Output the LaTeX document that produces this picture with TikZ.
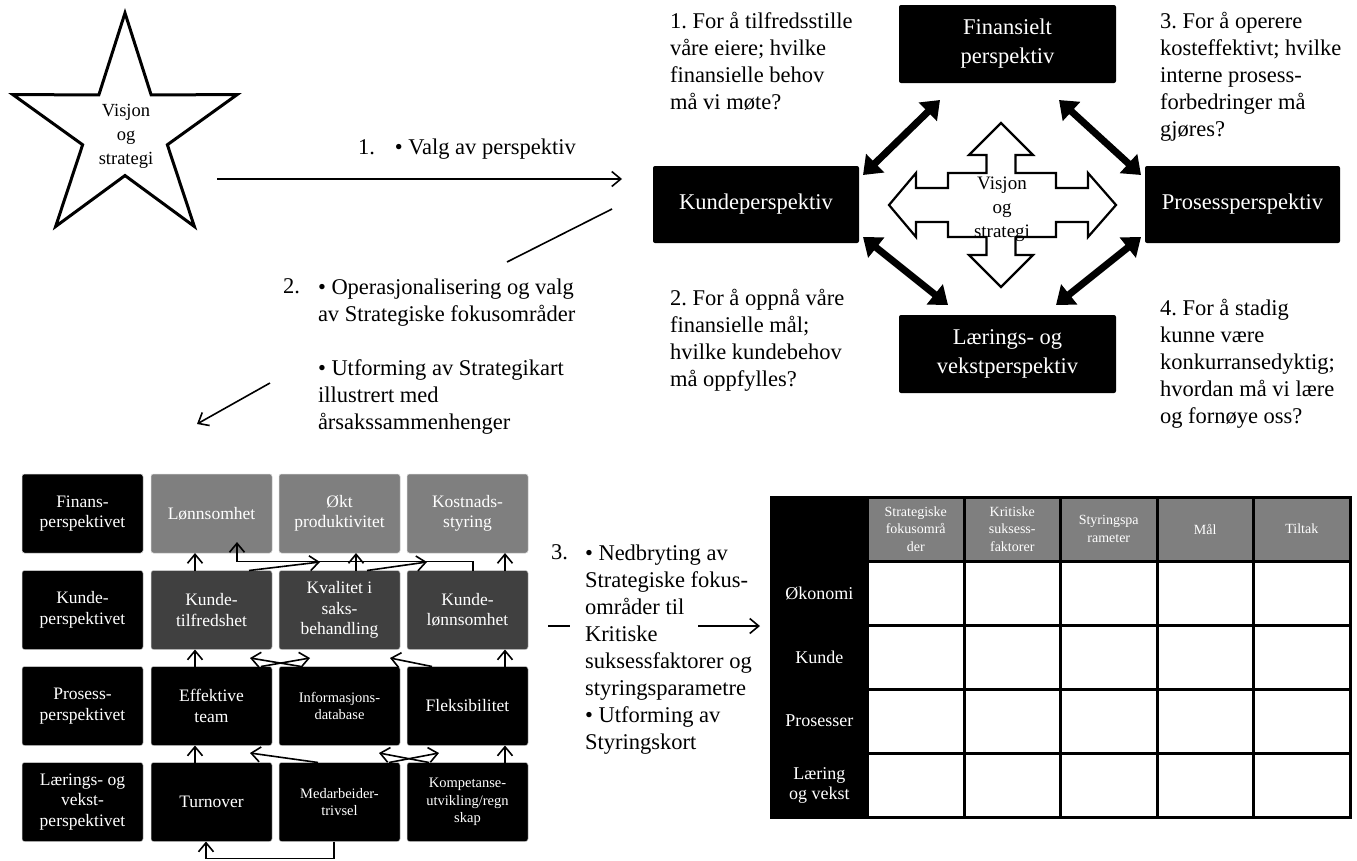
\documentclass[tikz,border=0pt]{standalone}
\usepackage{fontspec}
\setmainfont{Liberation Serif}
\usetikzlibrary{arrows.meta,shapes.geometric}
\frenchspacing

\definecolor{mapgray}{RGB}{127,127,127}
\definecolor{mapdark}{RGB}{64,64,64}

\tikzset{
  flow/.style={line width=1.6pt, -{Straight Barb[length=9pt,width=15pt]}},
  dbl/.style={line width=7pt, {Triangle[length=17pt,width=25pt]}-{Triangle[length=17pt,width=25pt]}},
  bigbox/.style={fill=black, text=white, rounded corners=2pt, align=center, font=\fontsize{22.5}{29}\selectfont},
  note/.style={anchor=north west, align=left, font=\fontsize{22.5}{27}\selectfont},
  steptxt/.style={anchor=north west, align=left, font=\fontsize{22.5}{27}\selectfont},
  mapbox/.style={fill=black, draw=gray!40, line width=0.5pt, rounded corners=2.5pt, minimum width=121pt, minimum height=79pt, text=white, align=center, font=\fontsize{17.5}{20.5}\selectfont},
  smalltxt/.style={font=\fontsize{14.5}{17.5}\selectfont},
  cell/.style={draw=black, fill=white, line width=3pt, minimum width=96.5pt, minimum height=64pt},
  headcell/.style={cell, fill=mapgray, text=white, align=center, font=\fontsize{14}{17.5}\selectfont},
  rowcell/.style={cell, fill=black, text=white, align=center, font=\fontsize{18}{20}\selectfont}
}

\begin{document}
\begin{tikzpicture}[x=1pt, y=-1pt, every node/.style={inner sep=0pt, outer sep=0pt}]
    \useasboundingbox (0,0) rectangle (1357,860);

    % star and the first steps
    \node[star, star points=5, star point ratio=2.65, draw, line width=3pt, minimum size=236pt] (star) at (125,131) {};
    \node[align=center, font=\fontsize{18.5}{24}\selectfont] (startxt) at (126,136) {Visjon\\og\\strategi};

    \node[anchor=west, font=\fontsize{22.5}{27}\selectfont] (step1) at (358,149) {1.\hspace{20pt}\textbullet\ Valg av perspektiv};
    \coordinate (a1s) at (217,179);
    \coordinate (a1e) at (622,179);
    \draw[flow] (a1s) -- (a1e);

    \coordinate (l2s) at (612,209);
    \coordinate (l2e) at (507,262);
    \draw[line width=1.6pt] (l2s) -- (l2e);

    \node[steptxt] (n2) at (283,279) {2.};
    \node[steptxt] (step2) at (318,279) {\textbullet\ Operasjonalisering og valg\\av Strategiske fokusområder\\[27pt]\textbullet\ Utforming av Strategikart\\illustrert med\\årsakssammenhenger};
    \coordinate (a2s) at (270,383);
    \coordinate (a2e) at (197,424);
    \draw[flow] (a2s) -- (a2e);

    % perspectives
    \node[bigbox, minimum width=217pt, minimum height=78pt] (fin) at (1007.5,44) {Finansielt\\perspektiv};
    \node[bigbox, minimum width=206pt, minimum height=77pt] (kunde) at (756,204.5) {Kundeperspektiv};
    \node[bigbox, minimum width=195pt, minimum height=77pt] (pros) at (1242.5,204.5) {Prosessperspektiv};
    \node[bigbox, minimum width=217pt, minimum height=78pt] (laer) at (1007.5,354) {Lærings- og\\vekstperspektiv};

    \node[note] (q1) at (670,12.5) {1. For å tilfredsstille\\våre eiere; hvilke\\finansielle behov\\må vi møte?};
    \node[note] (q3) at (1160,12.5) {3. For å operere\\kosteffektivt; hvilke\\interne prosess-\\forbedringer må\\gjøres?};
    \node[note] (q2) at (670,289.5) {2. For å oppnå våre\\finansielle mål;\\hvilke kundebehov\\må oppfylles?};
    \node[note] (q4) at (1160,299.5) {4. For å stadig\\kunne være\\konkurransedyktig;\\hvordan må vi lære\\og fornøye oss?};

    \draw[line width=2.2pt, fill=white, line join=miter] (1001,123) -- (1033,155) -- (1015.5,155) -- (1015.5,173) -- (1056,173) -- (1056,188) -- (1088,188) -- (1088,173) -- (1116,205) -- (1088,237) -- (1088,222) -- (1056,222) -- (1056,237) -- (1015.5,237) -- (1015.5,255) -- (1033,255) -- (1001,287) -- (969,255) -- (986.5,255) -- (986.5,237) -- (948,237) -- (948,222) -- (916,222) -- (916,237) -- (889,205) -- (916,173) -- (916,188) -- (948,188) -- (948,173) -- (986.5,173) -- (986.5,155) -- (969,155) -- cycle;
    \node[align=center, font=\fontsize{19}{24}\selectfont] (vis) at (1002,209) {Visjon\\og\\strategi};

    \draw[dbl] ([xshift=41pt,yshift=-17pt]fin.south west) -- ([xshift=4pt,yshift=-9pt]kunde.north east);
    \draw[dbl] ([xshift=-57pt,yshift=-17pt]fin.south east) -- ([xshift=-4pt,yshift=-9pt]pros.north west);
    \draw[dbl] ([xshift=4pt,yshift=6pt]kunde.south east) -- ([xshift=49pt,yshift=10pt]laer.north west);
    \draw[dbl] ([xshift=-4pt,yshift=6pt]pros.south west) -- ([xshift=-60pt,yshift=10pt]laer.north east);

    % strategy map
    \node[mapbox] (fp) at (82.5,513.5) {Finans-\\perspektivet};
    \node[mapbox, fill=mapgray] (lon) at (211.5,513.5) {Lønnsomhet};
    \node[mapbox, fill=mapgray] (okt) at (339.5,513.5) {Økt\\produktivitet};
    \node[mapbox, fill=mapgray] (kost) at (467.5,513.5) {Kostnads-\\styring};
    \node[mapbox] (kp) at (82.5,610) {Kunde-\\perspektivet};
    \node[mapbox, fill=mapdark] (ktf) at (211.5,610) {Kunde-\\tilfredshet};
    \node[mapbox, fill=mapdark] (kval) at (339.5,610) {Kvalitet i\\saks-\\behandling};
    \node[mapbox, fill=mapdark] (klon) at (467.5,610) {Kunde-\\lønnsomhet};
    \node[mapbox] (pp) at (82.5,706) {Prosess-\\perspektivet};
    \node[mapbox] (eff) at (211.5,706) {Effektive\\team};
    \node[mapbox, smalltxt] (info) at (339.5,706) {Informasjons-\\database};
    \node[mapbox] (flex) at (467.5,706) {Fleksibilitet};
    \node[mapbox] (lvp) at (82.5,802) {Lærings- og\\vekst-\\perspektivet};
    \node[mapbox] (turn) at (211.5,802) {Turnover};
    \node[mapbox, smalltxt] (medarb) at (339.5,802) {Medarbeider-\\trivsel};
    \node[mapbox, smalltxt] (komp) at (467.5,802) {Kompetanse-\\utvikling/regn\\skap};

    \draw[flow] ([xshift=-16.5pt]ktf.north) -- ([xshift=-16.5pt]lon.south);
    \draw[flow] ([xshift=-16.5pt]eff.north) -- ([xshift=-16.5pt]ktf.south);
    \draw[flow] ([xshift=-16.5pt]turn.north) -- ([xshift=-16.5pt]eff.south);
    \draw[flow] ([xshift=16.5pt]kval.north) -- ([xshift=16.5pt]okt.south);
    \draw[flow] ([xshift=37.5pt]klon.north) -- ([xshift=37.5pt]kost.south);
    \draw[flow] ([xshift=37.5pt]flex.north) -- ([xshift=37.5pt]klon.south);
    \draw[flow] ([xshift=37.5pt]komp.north) -- ([xshift=37.5pt]flex.south);
    \draw[flow] ([xshift=5.5pt]klon.north) -- ++(0,-9) -| ([xshift=25.5pt,yshift=11pt]lon.south);

    \coordinate (t1) at (320,562);
    \coordinate (t2) at (427,562);
    \coordinate (t3) at (310,658);
    \coordinate (t4) at (250,658);
    \coordinate (t5) at (390,658);
    \coordinate (t6) at (250,753);
    \coordinate (t7) at (379,753);
    \coordinate (t8) at (439,753);
    \draw[flow] ([xshift=37.5pt]ktf.north) -- (t1);
    \draw[flow] ([xshift=27.5pt]kval.north) -- (t2);
    \draw[flow] ([xshift=49.5pt]eff.north) -- (t3);
    \draw[flow] ([xshift=-38.5pt]info.north) -- (t4);
    \draw[flow] ([xshift=-35.5pt]flex.north) -- (t5);
    \draw[flow] ([xshift=-21.5pt]medarb.north) -- (t6);
    \draw[flow] ([xshift=-38.5pt]komp.north) -- (t7);
    \draw[flow] ([xshift=49.5pt]medarb.north) -- (t8);
    \draw[flow] ([xshift=-5.5pt]medarb.south) -- ++(0,17) -| ([xshift=-5.5pt]turn.south);

    % step 3 and the scorecard
    \node[steptxt] (n3) at (551,545) {3.};
    \node[steptxt] (step3) at (585,545) {\textbullet\ Nedbryting av\\Strategiske fokus-\\områder til\\Kritiske\\suksessfaktorer og\\styringsparametre\\\textbullet\ Utforming av\\Styringskort};
    \coordinate (d3s) at (548,626);
    \coordinate (d3e) at (570,626);
    \draw[line width=1.6pt] (d3s) -- (d3e);
    \coordinate (a3s) at (698,626);
    \coordinate (a3e) at (760,626);
    \draw[flow] (a3s) -- (a3e);

    \node[rowcell] (c00) at (819.25,529) {};
    \node[headcell] (h1) at (915.75,529) {Strategiske\\fokusområ\\der};
    \node[headcell] (h2) at (1012.25,529) {Kritiske\\suksess-\\faktorer};
    \node[headcell] (h3) at (1108.75,529) {Styringspa\\rameter};
    \node[headcell] (h4) at (1205.25,529) {Mål};
    \node[headcell] (h5) at (1301.75,529) {Tiltak};
    \node[rowcell] (r1) at (819.25,593) {Økonomi};
    \node[rowcell] (r2) at (819.25,657) {Kunde};
    \node[rowcell] (r3) at (819.25,721) {Prosesser};
    \node[rowcell] (r4) at (819.25,785) {Læring\\og vekst};
    \foreach \r/\y in {1/593, 2/657, 3/721, 4/785}
      \foreach \c/\x in {1/915.75, 2/1012.25, 3/1108.75, 4/1205.25, 5/1301.75}
        \node[cell] (c\r\c) at (\x,\y) {};

\end{tikzpicture}
\end{document}
